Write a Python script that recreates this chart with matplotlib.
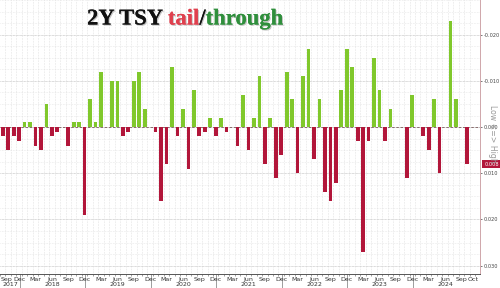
import numpy as np
import matplotlib
matplotlib.use("Agg")
import matplotlib.pyplot as plt
import matplotlib.patheffects as pe

# ---- data (positive = tail, negative = through) ----
auction_index = list(range(86))  # Sep 2017 .. Oct 2024, monthly
tail_through = [
    0.002, 0.005, 0.002, 0.003, -0.001, -0.001, 0.004, 0.005, -0.005, 0.002,
    0.001, 0.0, 0.004, -0.001, -0.001, 0.019, -0.006, -0.001, -0.012, 0.0,
    -0.010, -0.010, 0.002, 0.001, -0.010, -0.012, -0.004, 0.0, 0.001, 0.016,
    0.008, -0.013, 0.002, -0.004, 0.009, -0.008, 0.002, 0.001, -0.002, 0.002,
    -0.002, 0.001, 0.0, 0.004, -0.007, 0.005, -0.002, -0.011, 0.008, -0.002,
    0.011, 0.006, -0.012, -0.006, 0.010, -0.011, -0.017, 0.007, -0.006, 0.014,
    0.016, 0.012, -0.008, -0.017, -0.013, 0.003, 0.027, 0.003, -0.015, -0.008,
    0.003, -0.004, 0.0, 0.0, 0.011, -0.007, 0.0, 0.002, 0.005, -0.006,
    0.010, 0.0, -0.023, -0.006, 0.0, 0.008,
]
month_labels = ["Sep", "Dec", "Mar", "Jun"] * 7 + ["Sep", "Oct"]
month_label_pos = list(range(0, 85, 3)) + [86.1]
year_labels = ["2017", "2018", "2019", "2020", "2021", "2022", "2023", "2024"]
year_label_pos = [0, 9, 21, 33, 45, 57, 69, 81]
year_sep_pos = [3.1, 15.1, 27.1, 39.1, 51.1, 63.1, 75.1]
right_ticks = [-0.020, -0.010, 0.000, 0.010, 0.020, 0.030]
last_value = 0.008

RED = "#b2163a"
GREEN = "#80c82c"

fig = plt.figure(figsize=(5.0, 2.88), dpi=100)
ax = fig.add_axes([0.0, 14 / 288, 480 / 500, 274 / 288])

vals = np.array(tail_through)
x = np.array(auction_index)
colors = [RED if v > 0 else GREEN for v in vals]
ax.bar(x, vals, width=0.68, color=colors, zorder=3)

ax.set_xlim(-0.37, 87.4)
ax.set_ylim(0.0318, -0.0275)

# grid
for xi in x:
    ax.axvline(xi + 0.5, color="#d4d4d4", lw=0.45, ls=(0, (1, 1.5)), zorder=1)
for yv in np.arange(-0.0275, 0.0318, 0.0025):
    ax.axhline(yv, color="#dcdcdc", lw=0.45, ls=(0, (1, 1.5)), zorder=1)
for yv in right_ticks:
    ax.axhline(yv, color="#c4c4c4", lw=0.5, ls=(0, (1, 1)), zorder=1)
ax.axhline(0, color="#7a5a5a", lw=0.6, ls=(0, (3, 2)), zorder=2)

# spines
for s in ["left", "top"]:
    ax.spines[s].set_visible(False)
ax.spines["right"].set_color("#cfa6aa")
ax.spines["right"].set_linewidth(0.7)
ax.spines["bottom"].set_color("#555555")
ax.spines["bottom"].set_linewidth(0.7)

# right ticks
ax.yaxis.tick_right()
ax.set_yticks(right_ticks)
ax.set_yticklabels(["%.3f" % v for v in right_ticks], fontsize=3.6, color="#444444")
ax.tick_params(axis="y", length=1.5, width=0.5, pad=1, colors="#444444")

# x ticks
ax.set_xticks([i + 0.5 for i in range(-1, 87)], minor=True)
ax.set_xticks([])
ax.tick_params(axis="x", which="minor", length=1.2, width=0.4, color="#555555")
trans = ax.get_xaxis_transform()
for lab, pos in zip(month_labels, month_label_pos):
    if pos == 0:
        ax.text(-0.3, -0.019, lab, transform=trans, fontsize=4.5, color="#333333",
                ha="left", va="center", clip_on=False)
    else:
        ax.text(pos, -0.019, lab, transform=trans, fontsize=4.5, color="#333333",
                ha="center", va="center", clip_on=False)
for lab, pos in zip(year_labels, year_label_pos):
    if pos == 0:
        ax.text(-0.1, -0.039, lab, transform=trans, fontsize=4.5, color="#333333",
                ha="left", va="center", clip_on=False)
    else:
        ax.text(pos, -0.039, lab, transform=trans, fontsize=4.5, color="#333333",
                ha="center", va="center", clip_on=False)
for pos in year_sep_pos:
    ax.plot([pos, pos], [0, -0.052], transform=trans, color="#777777", lw=0.5,
            clip_on=False)

# last value box
ax.annotate("%.3f" % last_value, xy=(1.0, last_value), xycoords=("axes fraction", "data"),
            xytext=(3, 0), textcoords="offset points", fontsize=3.6, color="white",
            ha="left", va="center", annotation_clip=False,
            bbox=dict(boxstyle="square,pad=0.35", fc=RED, ec="none"), zorder=6)

# Low <=> High
fig.text(493 / 500, 1 - 134 / 288, "Low <=> High", rotation=270, fontsize=5.6,
         color="#9a9a9a", ha="center", va="center")

# title with colored pieces
fig.canvas.draw()
renderer = fig.canvas.get_renderer()
shadow = [pe.withSimplePatchShadow(offset=(0.8, -0.8), shadow_rgbFace="#888888", alpha=0.5),
          pe.Normal()]
pieces = [("2Y TSY ", "#111111"), ("tail", "#e0404e"), ("/", "#111111"), ("through", "#2f8f3c")]
xpos = 87 / 500
ypos = 1 - 19 / 288
for txt, col in pieces:
    t = fig.text(xpos, ypos, txt, fontsize=16.3, fontfamily="Liberation Serif",
                 fontweight="bold", color=col, ha="left", va="center",
                 path_effects=shadow)
    bb = t.get_window_extent(renderer=renderer)
    xpos += bb.width / fig.bbox.width

fig.savefig("out.png", dpi=100)
